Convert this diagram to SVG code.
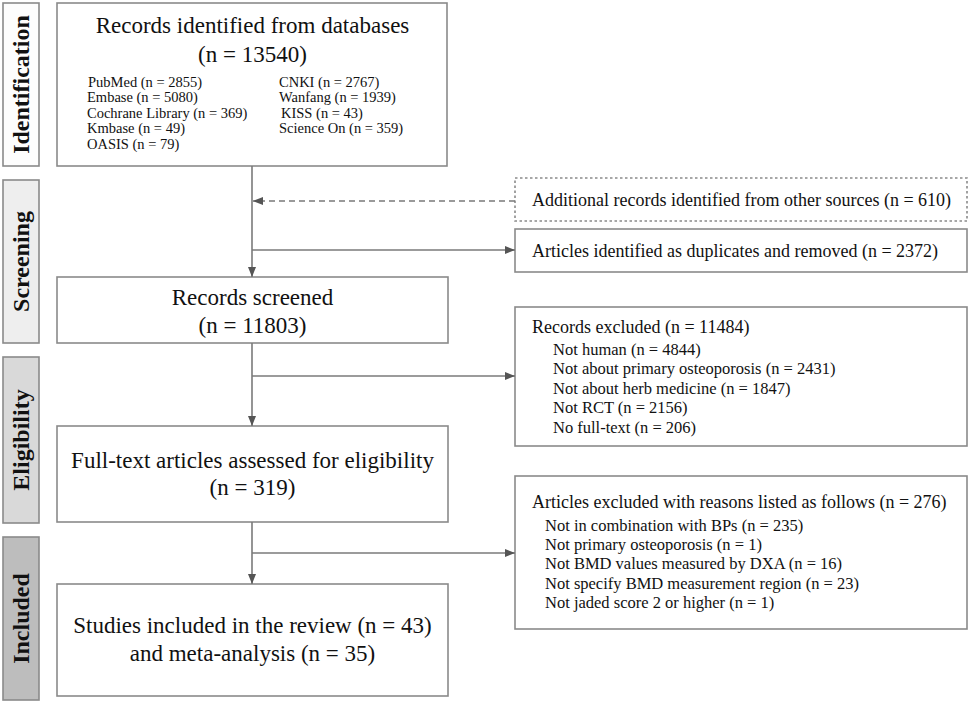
<svg xmlns="http://www.w3.org/2000/svg" width="969" height="702" viewBox="0 0 969 702">
<defs>
<marker id="ah" viewBox="0 0 10 10" refX="10" refY="5" markerWidth="10" markerHeight="10" markerUnits="userSpaceOnUse" orient="auto">
<path d="M0,1 L10,5 L0,9 Z" fill="#555"/>
</marker>
</defs>
<style>
text{font-family:"Liberation Serif","Times New Roman",serif;fill:#111}
.box{fill:#fff;stroke:#8a8a8a;stroke-width:1.6}
.dot{fill:#fff;stroke:#8a8a8a;stroke-width:1.6;stroke-dasharray:2.5 2.5}
.bar{stroke:#8a8a8a;stroke-width:1.6}
.lab{font-size:24px;font-weight:bold;text-anchor:middle}
.t{font-size:23px;text-anchor:middle}
.db{font-size:14.5px}
.h{font-size:18px}
.s{font-size:16.5px}
.ln{fill:none;stroke:#7a7a7a;stroke-width:1.6}
.dl{fill:none;stroke:#7a7a7a;stroke-width:1.6;stroke-dasharray:6 4}
</style>
<g id="phase-identification">
<rect class="bar" x="3" y="3" width="36" height="163" fill="#fdfdfd"/>
<text class="lab" transform="translate(29,84.5) rotate(-90)">Identification</text>
</g>
<g id="phase-screening">
<rect class="bar" x="3" y="180" width="36" height="163" fill="#eeeeee"/>
<text class="lab" transform="translate(29,261.5) rotate(-90)">Screening</text>
</g>
<g id="phase-eligibility">
<rect class="bar" x="3" y="357" width="36" height="166" fill="#d9d9d9"/>
<text class="lab" transform="translate(29,440) rotate(-90)">Eligibility</text>
</g>
<g id="phase-included">
<rect class="bar" x="3" y="537" width="36" height="163" fill="#bdbdbd"/>
<text class="lab" transform="translate(29,618.5) rotate(-90)">Included</text>
</g>
<g id="identified">
<rect class="box" x="57" y="3" width="390" height="163"/>
<text class="t" x="252.5" y="33">Records identified from databases</text>
<text class="t" x="252.5" y="62">(n = 13540)</text>
<text class="db" x="88" y="87">PubMed (n = 2855)</text>
<text class="db" x="87" y="102">Embase (n = 5080)</text>
<text class="db" x="87" y="118">Cochrane Library (n = 369)</text>
<text class="db" x="87" y="133">Kmbase (n = 49)</text>
<text class="db" x="87" y="149">OASIS (n = 79)</text>
<text class="db" x="279" y="87">CNKI (n = 2767)</text>
<text class="db" x="279" y="102">Wanfang (n = 1939)</text>
<text class="db" x="281" y="118">KISS (n = 43)</text>
<text class="db" x="279" y="133">Science On (n = 359)</text>
</g>
<g id="additional">
<rect class="dot" x="515" y="178" width="452" height="43"/>
<text class="h" x="532" y="206">Additional records identified from other sources (n = 610)</text>
</g>
<g id="duplicates">
<rect class="box" x="515" y="229" width="452" height="43"/>
<text class="h" x="532" y="257">Articles identified as duplicates and removed (n = 2372)</text>
</g>
<g id="screened">
<rect class="box" x="57" y="277" width="391" height="66"/>
<text class="t" x="252.5" y="305">Records screened</text>
<text class="t" x="252.5" y="333">(n = 11803)</text>
</g>
<g id="excluded-records">
<rect class="box" x="515" y="307" width="452" height="139"/>
<text class="h" x="532" y="333">Records excluded (n = 11484)</text>
<text class="s" x="553" y="355">Not human (n = 4844)</text>
<text class="s" x="553" y="374">Not about primary osteoporosis (n = 2431)</text>
<text class="s" x="553" y="394">Not about herb medicine (n = 1847)</text>
<text class="s" x="553" y="413">Not RCT (n = 2156)</text>
<text class="s" x="553" y="433">No full-text (n = 206)</text>
</g>
<g id="fulltext">
<rect class="box" x="57" y="426" width="391" height="96"/>
<text class="t" x="252.5" y="468">Full-text articles assessed for eligibility</text>
<text class="t" x="252.5" y="495">(n = 319)</text>
</g>
<g id="excluded-articles">
<rect class="box" x="515" y="476" width="452" height="153"/>
<text class="h" x="532" y="508">Articles excluded with reasons listed as follows (n = 276)</text>
<text class="s" x="545" y="531">Not in combination with BPs (n = 235)</text>
<text class="s" x="545" y="550">Not primary osteoporosis (n = 1)</text>
<text class="s" x="545" y="569">Not BMD values measured by DXA (n = 16)</text>
<text class="s" x="545" y="589">Not specify BMD measurement region (n = 23)</text>
<text class="s" x="545" y="608">Not jaded score 2 or higher (n = 1)</text>
</g>
<g id="included">
<rect class="box" x="57" y="584" width="391" height="112"/>
<text class="t" x="252.5" y="633">Studies included in the review (n = 43)</text>
<text class="t" x="252.5" y="661">and meta-analysis (n = 35)</text>
</g>
<g id="connectors">
<line class="ln" x1="252" y1="166" x2="252" y2="277" marker-end="url(#ah)"/>
<line class="dl" x1="515" y1="201" x2="253" y2="201" marker-end="url(#ah)"/>
<line class="ln" x1="252" y1="250" x2="515" y2="250" marker-end="url(#ah)"/>
<line class="ln" x1="252" y1="343" x2="252" y2="426" marker-end="url(#ah)"/>
<line class="ln" x1="252" y1="376" x2="515" y2="376" marker-end="url(#ah)"/>
<line class="ln" x1="252" y1="522" x2="252" y2="584" marker-end="url(#ah)"/>
<line class="ln" x1="252" y1="553" x2="515" y2="553" marker-end="url(#ah)"/>
</g>
</svg>
